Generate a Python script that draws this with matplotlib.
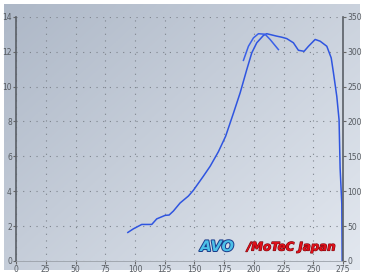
import numpy as np
import matplotlib
matplotlib.use("Agg")
import matplotlib.pyplot as plt
import matplotlib.patheffects as pe

# main curve (left-axis units)
run_x = [94, 98.7, 105.7, 114.1, 118.3, 125.3, 128.7, 132.3, 137.9, 144.9, 149.1,
         157.5, 163.2, 170.1, 176.2, 182.8, 188.4, 194, 198.2, 202.4, 208, 210.8,
         219.2, 223.4, 227.6, 233.2, 237.4, 242.2, 245.9, 251.5, 255.7, 261.3,
         265, 266.9, 269.7, 271.6, 272.5, 273.9, 274.2]
run_y = [1.63, 1.84, 2.09, 2.09, 2.41, 2.61, 2.63, 2.86, 3.32, 3.72, 4.05,
         4.86, 5.43, 6.26, 7.15, 8.48, 9.64, 10.98, 11.94, 12.52, 12.94, 13.04,
         12.9, 12.84, 12.76, 12.52, 12.09, 12.03, 12.32, 12.71, 12.61, 12.32,
         11.65, 10.79, 9.44, 8.1, 5.3, 3.28, 0.0]

# second (short) curve
run2_x = [191.2, 195.4, 199.6, 203.8, 209.4, 213.6, 220.6]
run2_y = [11.51, 12.32, 12.8, 13.04, 13.01, 12.71, 12.13]

left_ticks = [0, 2, 4, 6, 8, 10, 12, 14]
right_ticks = [0, 50, 100, 150, 200, 250, 300, 350]
x_ticks = [0, 25, 50, 75, 100, 125, 150, 175, 200, 225, 250, 275]

fig = plt.figure(figsize=(3.65, 2.74), dpi=100)
fig.patch.set_facecolor("white")

# screen background gradient
bg = fig.add_axes([0.012, 0.015, 0.975, 0.97])
gx, gy = np.meshgrid(np.linspace(0, 1, 200), np.linspace(0, 1, 150))
g = np.clip(0.55 * gx + 0.45 * gy, 0, 1)
c0 = np.array([0.68, 0.72, 0.78])
c1 = np.array([0.89, 0.91, 0.94])
img = c0[None, None, :] * (1 - g[..., None]) + c1[None, None, :] * g[..., None]
bg.imshow(img, aspect="auto", extent=[0, 1, 0, 1], origin="upper")
bg.axis("off")

ax = fig.add_axes([0.044, 0.048, 0.896, 0.89])
ax.patch.set_alpha(0)
ax.set_xlim(0, 275)
ax.set_ylim(0, 14)

ax.plot(run_x, run_y, color="#2f55e0", lw=1.1)
ax.plot(run2_x, run2_y, color="#3a60e8", lw=1.1)

ax.set_xticks(x_ticks)
ax.set_yticks(left_ticks)
ax.grid(True, color="#7d838c", linestyle=(0, (1, 5)), lw=0.8)
ax.tick_params(axis="both", labelsize=5.5, labelcolor="#555a60", length=2, color="#666", pad=1)

ax.spines["top"].set_visible(False)
ax.spines["left"].set_color("#5a5f66")
ax.spines["left"].set_linewidth(1.2)
ax.spines["right"].set_color("#5a5f66")
ax.spines["right"].set_linewidth(1.2)
ax.spines["bottom"].set_color("#9aa0a8")
ax.spines["bottom"].set_linewidth(0.6)

ax2 = ax.twinx()
ax2.set_ylim(0, 350)
ax2.set_yticks(right_ticks)
ax2.tick_params(axis="y", labelsize=5.5, labelcolor="#555a60", length=2, color="#666", pad=1)
for s in ["top", "left", "bottom", "right"]:
    ax2.spines[s].set_visible(False)

# logo
ax.text(0.563, 0.028, "AVO", transform=ax.transAxes, fontsize=10.5, fontweight="bold",
        style="italic", color="#4cc0e8", ha="left", va="bottom",
        path_effects=[pe.withStroke(linewidth=1.4, foreground="#1a3a8a")])
ax.text(0.706, 0.03, "/MoTeC Japan", transform=ax.transAxes, fontsize=8.5, fontweight="bold",
        style="italic", color="#e0101a", ha="left", va="bottom",
        path_effects=[pe.withStroke(linewidth=0.8, foreground="#7a0a10")])

fig.savefig("out.png", dpi=100)
